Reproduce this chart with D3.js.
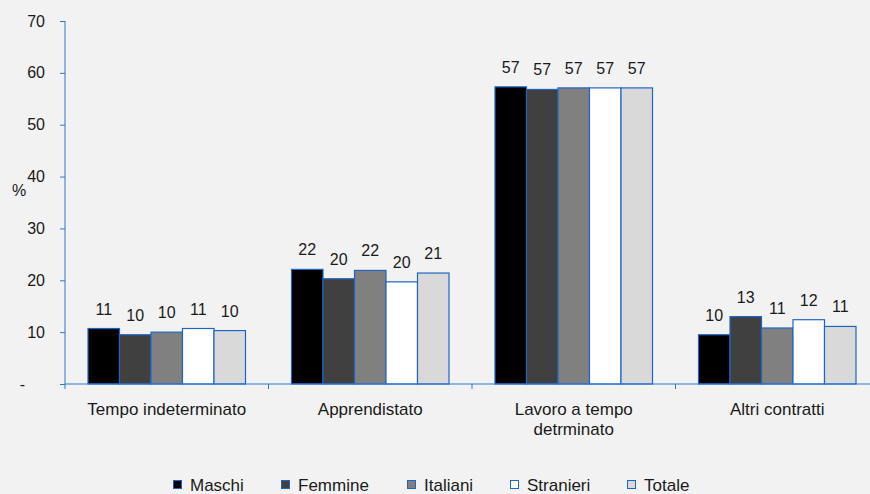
<!DOCTYPE html>
<html>
<head>
<meta charset="utf-8">
<script src="https://cdn.jsdelivr.net/npm/d3@7/dist/d3.min.js"></script>
<style>
  html, body { margin: 0; padding: 0; background: #f2f2f2; }
  svg { display: block; font-family: "Liberation Sans", Arial, sans-serif; }
</style>
</head>
<body>
<svg id="chart" width="870" height="494"></svg>
<script>
// Contract types and the groups compared in each
const categories = [["Tempo indeterminato"], ["Apprendistato"], ["Lavoro a tempo", "detrminato"], ["Altri contratti"]];
const seriesNames = ["Maschi", "Femmine", "Italiani", "Stranieri", "Totale"];
const seriesColors = ["#000000", "#404040", "#808080", "#ffffff", "#d9d9d9"];

// Share (%) per contract type, one array per group
const maschi    = [10.7, 22.1, 57.3, 9.5];
const femmine   = [9.5, 20.3, 56.8, 13.0];
const italiani  = [10.0, 21.9, 57.1, 10.8];
const stranieri = [10.7, 19.7, 57.1, 12.4];
const totale    = [10.3, 21.4, 57.1, 11.1];
const seriesValues = [maschi, femmine, italiani, stranieri, totale];

const yTicks = [0, 10, 20, 30, 40, 50, 60, 70];

const svg = d3.select("#chart");
const axisColor = "#2a78d6";
const barStroke = "#1f66c4";
const textColor = "#1a1a1a";
const plotLeft = 65, plotRight = 879, plotTop = 21, plotBottom = 384;

const x = d3.scaleBand().domain(d3.range(categories.length)).range([plotLeft, plotRight]).padding(0);
const groupW = x.bandwidth() * 0.774;
const xs = d3.scaleBand().domain(d3.range(seriesNames.length))
  .range([(x.bandwidth() - groupW) / 2, (x.bandwidth() + groupW) / 2]).padding(0);
const y = d3.scaleLinear().domain([0, 70]).range([plotBottom, plotTop]);

// Y axis
const yAxis = svg.append("g").attr("transform", `translate(${plotLeft},0)`)
  .call(d3.axisLeft(y).tickValues(yTicks).tickSize(5).tickPadding(15)
    .tickFormat(d => d === 0 ? "-" : d));
yAxis.select(".domain").remove();
yAxis.selectAll(".tick line").attr("stroke", axisColor);
yAxis.selectAll(".tick text").attr("font-size", 16).attr("fill", textColor)
  .attr("font-family", "Liberation Sans, Arial, sans-serif");
yAxis.selectAll(".tick").filter(d => d === 0).select("text").attr("x", -40);
svg.append("line").attr("x1", plotLeft).attr("x2", plotLeft).attr("y1", plotTop).attr("y2", plotBottom + 5)
  .attr("stroke", axisColor);

svg.append("text").attr("x", 12).attr("y", 196).attr("font-size", 16).attr("fill", textColor).text("%");

// Bars with value labels
const groups = svg.append("g").selectAll("g").data(categories).join("g")
  .attr("transform", (d, i) => `translate(${x(i)},0)`);

groups.each(function(cat, ci) {
  const g = d3.select(this);
  seriesValues.forEach((vals, si) => {
    const v = vals[ci];
    g.append("rect")
      .attr("x", xs(si)).attr("y", y(v))
      .attr("width", xs.bandwidth()).attr("height", y(0) - y(v))
      .attr("fill", seriesColors[si])
      .attr("stroke", barStroke).attr("stroke-width", 1.2);
    g.append("text")
      .attr("x", xs(si) + xs.bandwidth() / 2).attr("y", y(v) - 14)
      .attr("text-anchor", "middle").attr("font-size", 16).attr("fill", textColor)
      .text(Math.round(v));
  });
});

// X axis
svg.append("line").attr("x1", plotLeft).attr("x2", 870).attr("y1", plotBottom).attr("y2", plotBottom)
  .attr("stroke", axisColor).attr("stroke-width", 1.2);
svg.append("g").selectAll("line").data(d3.range(1, categories.length)).join("line")
  .attr("x1", d => x(d)).attr("x2", d => x(d))
  .attr("y1", plotBottom).attr("y2", plotBottom + 5).attr("stroke", axisColor);

svg.append("g").selectAll("text").data(categories).join("text")
  .attr("x", (d, i) => x(i) + x.bandwidth() / 2)
  .attr("y", 415)
  .attr("text-anchor", "middle").attr("font-size", 17).attr("fill", textColor)
  .each(function(lines) {
    d3.select(this).selectAll("tspan").data(lines).join("tspan")
      .attr("x", d3.select(this).attr("x"))
      .attr("dy", (d, i) => i === 0 ? 0 : 20)
      .text(d => d);
  });

// Legend
const legendX = [173, 281, 407, 510, 627];
const legend = svg.append("g").selectAll("g").data(seriesNames).join("g")
  .attr("transform", (d, i) => `translate(${legendX[i]},480)`);
legend.append("rect").attr("x", 0.5).attr("y", 0.5).attr("width", 8).attr("height", 8)
  .attr("fill", (d, i) => seriesColors[i]).attr("stroke", barStroke);
legend.append("text").attr("x", 17).attr("y", 10.5).attr("font-size", 17).attr("fill", textColor)
  .text(d => d);
</script>
</body>
</html>
